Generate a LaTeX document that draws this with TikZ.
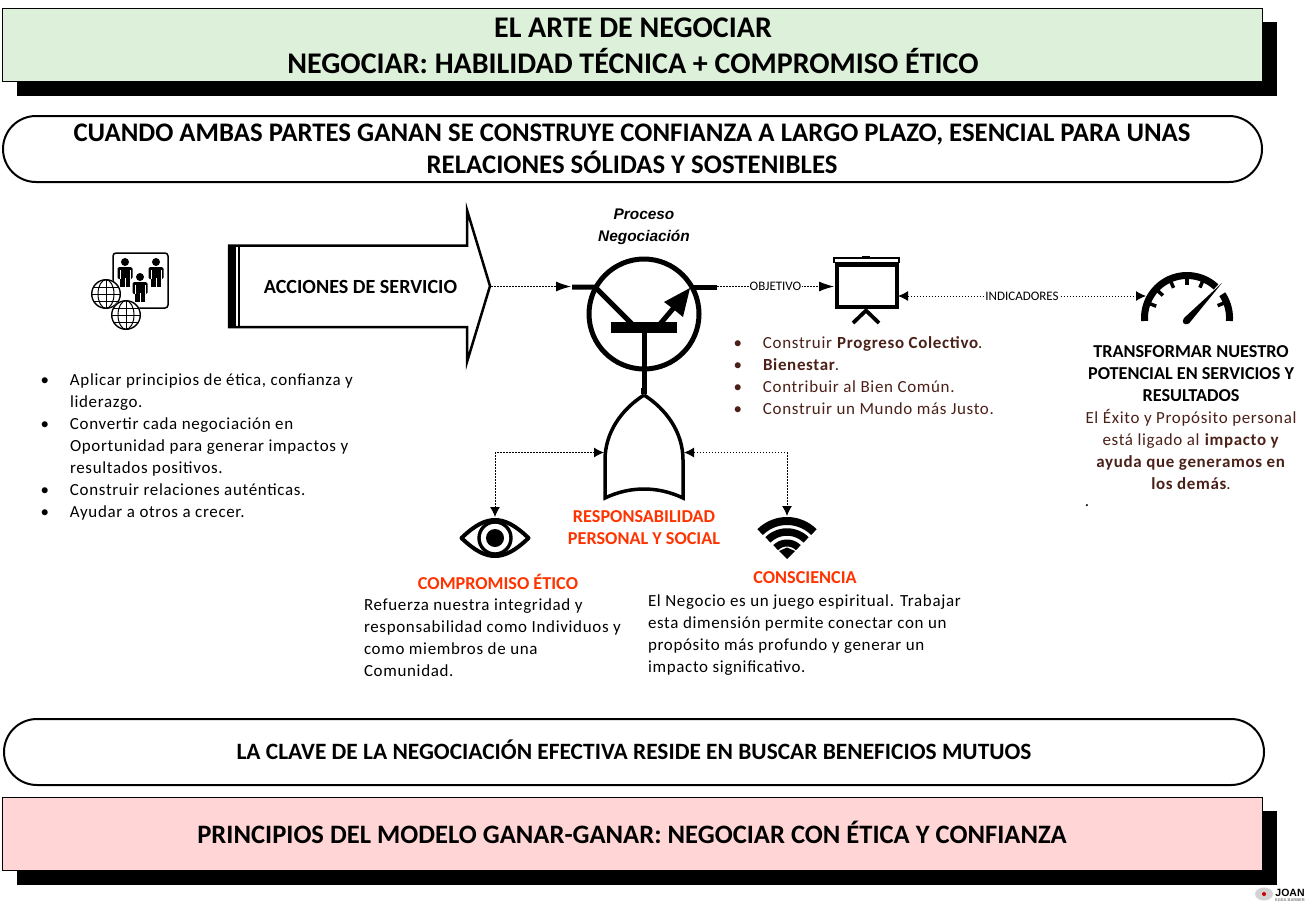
\documentclass[tikz,border=0pt]{standalone}
\usepackage{fontspec}
\setmainfont{Carlito}
\newfontfamily\bodyf[LetterSpace=4]{Carlito}
\newfontfamily\arialf{Liberation Sans}
\usetikzlibrary{arrows.meta,calc}
\definecolor{boxgreen}{HTML}{DDF0DA}
\definecolor{boxpink}{HTML}{FFD5D5}
\definecolor{brownt}{HTML}{4A2018}
\definecolor{redt}{HTML}{FF3300}
\newcommand{\fsz}[2]{\fontsize{#1}{#2}\selectfont}
\newcommand{\bl}{\makebox[0pt][r]{\textbullet\hspace{21pt}}}
\tikzset{
  x=1pt,y=-1pt,
  txt/.style={inner sep=0pt,outer sep=0pt},
  shadowbox/.style={fill=black,draw=none},
  titlebox/.style={draw=black,line width=0.8pt},
  pill/.style={draw=black,line width=2pt,fill=white,rounded corners=33pt},
  banner/.style={txt,align=center,font=\bfseries\fsz{26.8}{32}},
  bodytxt/.style={txt,align=left,font=\bodyf\fsz{16.95}{22}},
  redhead/.style={txt,align=center,text=redt,font=\bfseries\fsz{18.2}{22}},
  dotarrow/.style={line width=1pt,dash pattern=on 1.5pt off 1.5pt,{Latex[length=10pt,width=10pt,fill=black]}-{Latex[length=10pt,width=10pt,fill=black]}},
  dotright/.style={line width=1pt,dash pattern=on 1.5pt off 1.5pt,-{Latex[length=15pt,width=10pt,fill=black]}},
  smalllab/.style={txt,fill=white,inner xsep=1pt,font=\fsz{13}{14}},
  heavy/.style={line width=5pt,draw=black},
}
\begin{document}
\begin{tikzpicture}
\useasboundingbox (0,0) rectangle (1313,908);
% top box
\fill[shadowbox] (17,22) rectangle (1277,96);
\node[titlebox,fill=boxgreen,minimum width=1260pt,minimum height=73pt,anchor=north west,inner sep=0pt] (toptitle) at (2,8) {};
\node[banner,font=\bfseries\fsz{30}{36}] (toptext) at (633,45.5) {EL ARTE DE NEGOCIAR\\NEGOCIAR: HABILIDAD TÉCNICA + COMPROMISO ÉTICO};
% pill 1
\draw[pill] (3,116) rectangle (1262,182);
\node[banner] (pilltext1) at (632,149) {CUANDO AMBAS PARTES GANAN SE CONSTRUYE CONFIANZA A LARGO PLAZO, ESENCIAL PARA UNAS\\RELACIONES SÓLIDAS Y SOSTENIBLES};
% pill 2
\draw[pill] (4,719) rectangle (1264,785);
\node[banner,font=\bfseries\fsz{23.4}{30}] (pilltext2) at (634,750) {LA CLAVE DE LA NEGOCIACIÓN EFECTIVA RESIDE EN BUSCAR BENEFICIOS MUTUOS};
% bottom box
\fill[shadowbox] (17,811) rectangle (1277,885);
\node[titlebox,fill=boxpink,minimum width=1260pt,minimum height=73pt,anchor=north west,inner sep=0pt] (bottomtitle) at (2,797) {};
\node[banner,font=\bfseries\fsz{26.6}{32}] (bottomtext) at (632,832.5) {PRINCIPIOS DEL MODELO GANAR-GANAR: NEGOCIAR CON ÉTICA Y CONFIANZA};

% people icon
\draw[line width=1.5pt,rounded corners=3pt] (113,253) rectangle (168,308);
\foreach \px/\py in {125/262,156/262,140/277}{
  \fill (\px,\py) circle (4);
  \fill[rounded corners=1.5pt] (\px-7.5,\py+5) rectangle (\px+7.5,\py+17);
  \fill (\px-5,\py+10) rectangle (\px+5,\py+25);
  \draw[white,line width=0.7pt] (\px,\py+16) -- (\px,\py+25);
  \draw[white,line width=0.5pt] (\px-4.8,\py+8) -- (\px-4.8,\py+17) (\px+4.8,\py+8) -- (\px+4.8,\py+17);
}
\foreach \gx/\gy in {106/294,126/315}{
  \fill[white] (\gx,\gy) circle (15);
  \draw[line width=1.4pt] (\gx,\gy) circle (14.3);
  \draw[line width=1pt] (\gx,\gy) ellipse [x radius=8,y radius=14.3];
  \draw[line width=1pt] (\gx,\gy-14.3) -- (\gx,\gy+14.3);
  \draw[line width=1pt] (\gx-14.3,\gy) -- (\gx+14.3,\gy);
  \draw[line width=1pt] (\gx-12.3,\gy-7) -- (\gx+12.3,\gy-7) (\gx-12.3,\gy+7) -- (\gx+12.3,\gy+7);
}
% big arrow
\draw[line width=2.5pt,line join=miter,fill=white] (229,245.5) -- (467,245.5) -- (467,210) -- (490,286) -- (467,362) -- (467,327) -- (229,327) -- cycle;
\fill (229,244.5) rectangle (236,328);
\draw[line width=1.6pt] (239,245) -- (239,328);
\node[txt,font=\bfseries\fsz{20.1}{22}] (acciones) at (360.5,287) {ACCIONES DE SERVICIO};
\coordinate (arrowtip) at (491,286.5);
% process label
\node[txt,align=center,font=\arialf\bfseries\itshape\fsz{15.4}{22}] (proceso) at (644,226.5) {Proceso\\Negociación};
% transistor
\draw[line width=5pt] (644,314) circle (55);
\draw[heavy] (572,287) -- (595,287) -- (632,324);
\draw[heavy] (692,287) -- (717,287);
\fill (611,322) rectangle (677,333);
\draw[line width=5pt] (660,324) -- (677,304);
\fill (690,288) -- (664,302) -- (672,308) -- (683,317) -- cycle;
\draw[line width=5pt] (644,333) -- (644,388);
\draw[line width=6pt] (644,388) -- (644,394);
\coordinate (tleft) at (571,286.5);
\coordinate (tright) at (717,286.5);
% gate
\draw[line width=3.5pt,line join=miter,fill=white] (644,395) .. controls (622,409) and (605,432) .. (605,460) -- (605,498) .. controls (630,486) and (658,486) .. (683,498) -- (683,460) .. controls (683,432) and (666,409) .. (644,395);
\coordinate (gleft) at (604,452.5);
\coordinate (gright) at (684,452.5);
\coordinate (gl2) at (495,452.5);
\coordinate (gr2) at (787,452.5);
% presentation screen
\draw[line width=4pt,fill=white] (837,264.5) rectangle (896.5,307);
\draw[line width=1.8pt,fill=white] (834,258) rectangle (899,262.5);
\fill (862,258) rectangle (870,255.5);
\draw[line width=3.8pt] (853,323) -- (866,310.5) -- (879,323);
\coordinate (scrl) at (834,286.5);
\coordinate (scrr) at (898,296);
% gauge
\draw[line width=7pt] plot[domain=-4:133,samples=60] ({1187-42.5*cos(\x)},{318-42.5*sin(\x)});
\draw[line width=7pt] plot[domain=-4:34,samples=20] ({1187+42.5*cos(\x)},{318-42.5*sin(\x)});
\foreach \a in {159,137,114,90,67,22} {
  \draw[line width=3.5pt] ({1187+41*cos(\a)},{318-41*sin(\a)}) -- ({1187+33*cos(\a)},{318-33*sin(\a)});
}
\fill (1222,283) -- (1189,323.5) .. controls (1184,326) and (1181,322) .. (1184,318) -- cycle;
\coordinate (gaugel) at (1146,296);
% eye
\draw[line width=4pt,line join=round,fill=white] (461.5,538) .. controls (475,525) and (485,520) .. (495,520) .. controls (505,520) and (515,525) .. (528.5,538) .. controls (515,551) and (505,556) .. (495,556) .. controls (485,556) and (475,551) .. (461.5,538) -- cycle;
\draw[line width=3.4pt] (495,538) circle (16);
\fill (495,538) circle (9);
\coordinate (eyetop) at (495,517);
% wifi
\foreach \rr/\wd in {38/8,27/7.5,16/7} {
  \draw[line width=\wd pt] plot[domain=45:135,samples=30] ({787+\rr*cos(\x)},{559-\rr*sin(\x)});
}
\coordinate (wifitop) at (787,516);
\fill (787,559) -- (795,551) -- (787,547.5) -- (779,551) -- cycle;
% connectors
\draw[dotright] (arrowtip) -- (tleft);
\draw[dotright] (tright) -- node[smalllab] (objetivo) {OBJETIVO} (scrl);
\draw[dotarrow] (scrr) -- node[smalllab] (indicadores) {INDICADORES} (gaugel);
\draw[dotarrow] (gleft) -- (gl2) -- (eyetop);
\draw[dotarrow] (gright) -- (gr2) -- (wifitop);
% lists
\node[bodytxt,anchor=north west] (leftlist) at (70,373.5) {\bl Aplicar principios de ética, confianza y\\liderazgo.\\\bl Convertir cada negociación en\\Oportunidad para generar impactos y\\resultados positivos.\\\bl Construir relaciones auténticas.\\\bl Ayudar a otros a crecer.};
\node[bodytxt,anchor=north west,text=brownt] (rightlist) at (763,336.5) {\bl Construir \textbf{Progreso Colectivo}.\\\bl \textbf{Bienestar}.\\\bl Contribuir al Bien Común.\\\bl Construir un Mundo más Justo.};
\node[txt,align=center,font=\bfseries\fsz{18.2}{22}] (transf) at (1191,374) {TRANSFORMAR NUESTRO\\POTENCIAL EN SERVICIOS Y\\RESULTADOS};
\node[bodytxt,align=center,text=brownt] (exito) at (1191,449.5) {El Éxito y Propósito personal\\está ligado al \textbf{impacto y}\\\textbf{ayuda que generamos en}\\\textbf{los demás}.};
\node[txt,font=\bodyf\fsz{17}{22}] (punto) at (1087,506) {.};
\node[redhead] (resp) at (644,528) {RESPONSABILIDAD\\PERSONAL Y SOCIAL};
\node[redhead] (comp) at (498,581.5) {COMPROMISO ÉTICO};
\node[redhead] (cons) at (805,578) {CONSCIENCIA};
\node[bodytxt,anchor=north west] (comptxt) at (364,599) {Refuerza nuestra integridad y\\responsabilidad como Individuos y\\como miembros de una\\Comunidad.};
\node[bodytxt,anchor=north west] (constxt) at (648,595) {El Negocio es un juego espiritual. Trabajar\\esta dimensión permite conectar con un\\propósito más profundo y generar un\\impacto significativo.};
% logo
\fill[gray!35] (1264,894) ellipse [x radius=9,y radius=6.5];
\fill[red!80!black] (1264,894) circle (2);
\node[txt,font=\arialf\bfseries\fsz{10.5}{10}] (joan) at (1290,892.5) {JOAN};
\node[txt,font=\arialf\bfseries\fsz{4}{4},text=gray] (egea) at (1290,900) {EGEA BARBER};
\end{tikzpicture}
\end{document}
